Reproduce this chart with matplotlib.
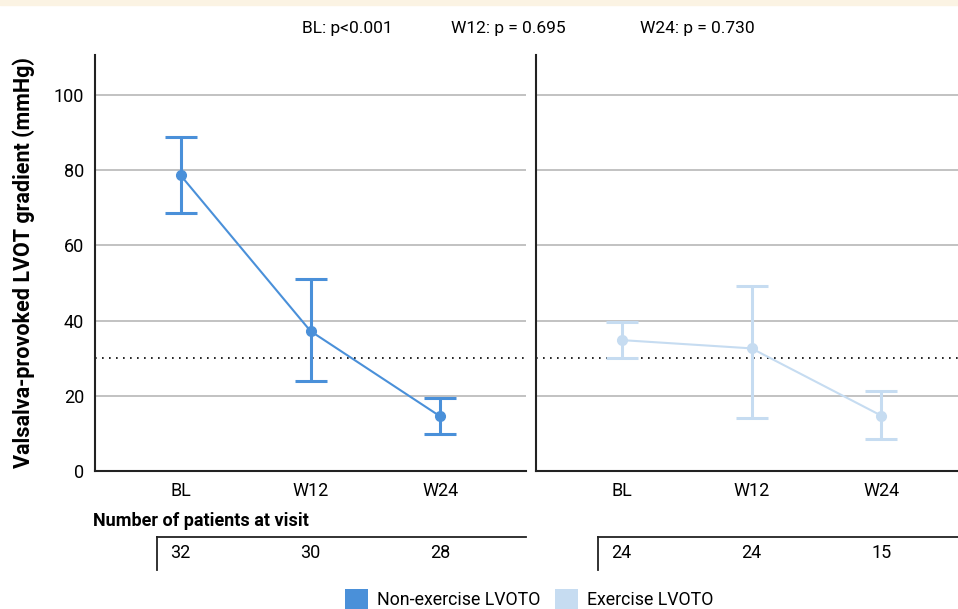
import matplotlib
matplotlib.use("Agg")
import matplotlib.pyplot as plt
from matplotlib.patches import Patch, Rectangle

plt.rcParams['font.family'] = ['Roboto', 'DejaVu Sans']

# ---- data ----
visits = ["BL", "W12", "W24"]
nonex_mean = [78.6, 37.2, 14.5]
nonex_low = [68.5, 24.0, 9.8]
nonex_high = [88.7, 51.0, 19.5]
ex_mean = [34.8, 32.6, 14.7]
ex_low = [30.1, 14.2, 8.4]
ex_high = [39.7, 49.2, 21.2]
nonex_n = [32, 30, 28]
ex_n = [24, 24, 15]
pvalues = ["BL: p<0.001", "W12: p = 0.695", "W24: p = 0.730"]
yticks = [0, 20, 40, 60, 80, 100]
threshold = 30
series_labels = ["Non-exercise LVOTO", "Exercise LVOTO"]

DARK = "#4a90d9"
LIGHT = "#c6dcf1"
GRID = "#b8b8b8"

W, H = 958, 609
fig = plt.figure(figsize=(W / 100, H / 100), dpi=100)
fig.patches.append(Rectangle((0, 1 - 5 / H), 1, 5 / H, transform=fig.transFigure,
                             color="#fbf3e3", zorder=0))


def px(x0, y0, x1, y1):
    return [x0 / W, 1 - y1 / H, (x1 - x0) / W, (y1 - y0) / H]


x = list(range(len(visits)))
axL = fig.add_axes(px(95, 55, 526, 471))
axR = fig.add_axes(px(536, 55, 958, 471))
xlims = [(-0.66, 2.66), (-0.66, 2.59)]

for ax, mean, lo, hi, col, xl in [(axL, nonex_mean, nonex_low, nonex_high, DARK, xlims[0]),
                                  (axR, ex_mean, ex_low, ex_high, LIGHT, xlims[1])]:
    ax.set_xlim(*xl)
    ax.set_ylim(0, 110.6)
    ax.set_yticks(yticks)
    ax.yaxis.grid(True, color=GRID, lw=1.2)
    ax.set_axisbelow(True)
    for s in ["top", "right"]:
        ax.spines[s].set_visible(False)
    for s in ["left", "bottom"]:
        ax.spines[s].set_linewidth(1.5)
        ax.spines[s].set_color("#222222")
    ax.tick_params(length=0, labelsize=13, pad=8)
    ax.set_xticks(x)
    ax.set_xticklabels(visits)
    ax.axhline(threshold, color="black", lw=1.2, ls=(0, (1, 3.2)), zorder=1.5)
    yerr = [[m - l for m, l in zip(mean, lo)], [h - m for m, h in zip(mean, hi)]]
    ax.errorbar(x, mean, yerr=yerr, fmt="-o", color=col, lw=1.5, elinewidth=2.2,
                capsize=11.5, capthick=2.2, ms=7, zorder=3)

axL.set_ylabel("Valsalva-provoked LVOT gradient (mmHg)", fontsize=15.5,
               fontweight="bold", labelpad=13)
axR.set_yticklabels([])

# p-values
for xc, t in zip([347, 508, 697], pvalues):
    fig.text(xc / W, 1 - 28 / H, t, ha="center", va="center", fontsize=12.5)

# patients table
fig.text(93 / W, 1 - 521 / H, "Number of patients at visit", fontsize=13,
         fontweight="bold", ha="left", va="center")
for box, xl, ns in [((95, 537, 526, 570), xlims[0], nonex_n),
                    ((536, 537, 958, 570), xlims[1], ex_n)]:
    t = fig.add_axes(px(*box))
    t.set_xlim(*xl)
    t.set_ylim(0, 1)
    t.set_xticks([])
    t.set_yticks([])
    t.patch.set_visible(False)
    for s in ["right", "bottom"]:
        t.spines[s].set_visible(False)
    t.spines["left"].set_position(("data", -0.18))
    t.spines["top"].set_bounds(-0.18, xl[1])
    for s in ["left", "top"]:
        t.spines[s].set_linewidth(1.3)
        t.spines[s].set_color("#222222")
    for i, n in enumerate(ns):
        t.text(i, 0.52, str(n), ha="center", va="center", fontsize=13)

# legend
handles = [Patch(facecolor=DARK, edgecolor="none"), Patch(facecolor=LIGHT, edgecolor="none")]
fig.legend(handles, series_labels, loc="center", bbox_to_anchor=(529 / W, 1 - 599 / H),
           ncol=2, frameon=False, fontsize=12.8, handlelength=1.3, handleheight=1.4,
           handletextpad=0.5, columnspacing=0.8, borderpad=0)

fig.savefig("out.png", dpi=100)
